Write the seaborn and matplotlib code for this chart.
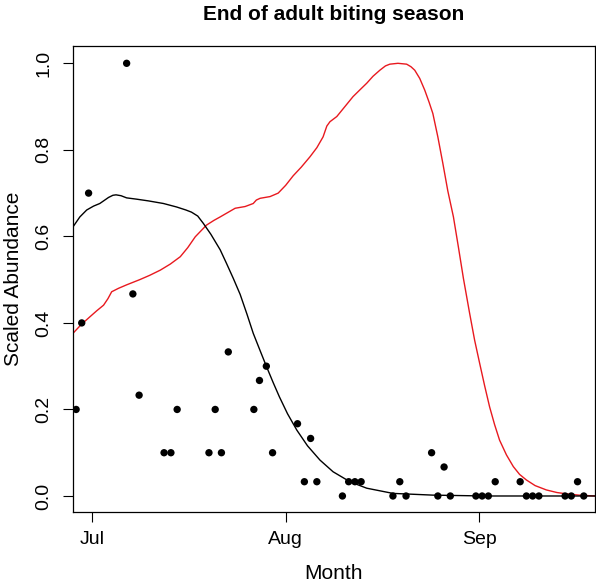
import matplotlib
matplotlib.use("Agg")
import matplotlib.pyplot as plt
import seaborn as sns
import pandas as pd

# observed points: day of year and scaled abundance
obs_day = [179.4, 180.3, 181.4, 187.5, 188.5, 189.5, 193.5, 194.6, 195.6, 200.7,
           201.7, 202.7, 203.8, 207.9, 208.8, 209.9, 210.9, 214.9, 216.0, 217.0,
           218.0, 222.1, 223.1, 224.1, 225.1, 230.2, 231.3, 232.3, 236.4, 237.4,
           238.4, 239.4, 243.5, 244.5, 245.5, 246.6, 250.6, 251.6, 252.6, 253.6,
           257.8, 258.8, 259.8, 260.8]
obs_val = [0.200, 0.400, 0.700, 1.000, 0.467, 0.233, 0.100, 0.100, 0.200, 0.100,
           0.200, 0.100, 0.333, 0.200, 0.267, 0.300, 0.100, 0.167, 0.033, 0.133,
           0.033, 0.000, 0.033, 0.033, 0.033, 0.000, 0.033, 0.000, 0.100, 0.000,
           0.067, 0.000, 0.000, 0.000, 0.000, 0.033, 0.033, 0.000, 0.000, 0.000,
           0.000, 0.000, 0.033, 0.000]

# black fitted curve
black_day = [178.9, 180.0, 181.1, 182.2, 183.2, 184.0, 184.6, 185.3, 185.8, 186.6,
             187.5, 189.1, 191.0, 193.4, 195.5, 197.0, 197.9, 198.9, 199.8, 201.0,
             202.5, 203.5, 204.6, 205.7, 206.8, 207.8, 208.9, 209.9, 211.0, 212.0,
             213.3, 214.8, 216.5, 218.5, 220.6, 223.3, 226.0, 230.2, 236.6, 245.0,
             262.6]
black_val = [0.622, 0.645, 0.661, 0.670, 0.676, 0.684, 0.690, 0.695, 0.696, 0.694,
             0.689, 0.686, 0.682, 0.676, 0.668, 0.661, 0.656, 0.647, 0.630, 0.605,
             0.569, 0.538, 0.503, 0.466, 0.420, 0.376, 0.336, 0.300, 0.262, 0.229,
             0.190, 0.152, 0.116, 0.083, 0.056, 0.033, 0.018, 0.006, 0.002, 0.000,
             0.000]

# red fitted curve
red_day = [178.9, 180.2, 181.6, 182.7, 183.8, 184.5, 185.1, 186.2, 187.5, 189.6,
           191.2, 192.9, 194.5, 196.1, 197.3, 198.5, 200.3, 201.5, 202.5, 203.7,
           204.9, 206.5, 207.8, 208.3, 208.9, 210.5, 211.8, 213.0, 214.2, 215.5,
           216.9, 218.0, 219.0, 219.6, 220.1, 221.2, 222.5, 223.8, 225.0, 226.0,
           227.0, 228.1, 229.0, 229.7, 231.0, 232.4, 233.1, 233.7, 234.5, 235.3,
           236.0, 236.6, 237.4, 238.2, 239.0, 239.9, 240.7, 241.5, 242.5, 243.3,
           244.1, 244.9, 245.7, 246.5, 247.3, 248.4, 249.5, 250.5, 251.6, 253.0,
           254.8, 256.5, 258.0, 260.0, 262.6]
red_val = [0.376, 0.396, 0.414, 0.428, 0.441, 0.456, 0.472, 0.480, 0.488, 0.500,
           0.510, 0.522, 0.536, 0.553, 0.574, 0.599, 0.626, 0.637, 0.645, 0.655,
           0.665, 0.669, 0.676, 0.684, 0.688, 0.692, 0.700, 0.718, 0.740, 0.760,
           0.784, 0.805, 0.830, 0.855, 0.865, 0.877, 0.900, 0.923, 0.940, 0.954,
           0.970, 0.984, 0.994, 0.998, 1.000, 0.998, 0.992, 0.984, 0.965, 0.938,
           0.910, 0.884, 0.830, 0.769, 0.705, 0.645, 0.575, 0.503, 0.422, 0.360,
           0.307, 0.255, 0.206, 0.165, 0.129, 0.095, 0.068, 0.050, 0.037, 0.024,
           0.014, 0.008, 0.005, 0.002, 0.000]

month_ticks = [182, 213, 244]
month_labels = ["Jul", "Aug", "Sep"]
y_ticks = [0.0, 0.2, 0.4, 0.6, 0.8, 1.0]

sns.set_style("white")
plt.rcParams['font.family'] = ['Liberation Sans', 'DejaVu Sans']
plt.rcParams['text.color'] = 'black'
plt.rcParams['axes.labelcolor'] = 'black'

fig = plt.figure(figsize=(5.96, 5.83), dpi=100)
ax = fig.add_axes([73/596, 1-512/583, 522/596, 466/583])

pts = pd.DataFrame({"day": obs_day, "val": obs_val})
blk = pd.DataFrame({"day": black_day, "val": black_val})
red = pd.DataFrame({"day": red_day, "val": red_val})

sns.lineplot(data=red, x="day", y="val", color="#e8191f", lw=1.0, sort=False, ax=ax)
sns.lineplot(data=blk, x="day", y="val", color="black", lw=1.0, sort=False, ax=ax)
sns.scatterplot(data=pts, x="day", y="val", color="black", s=28, edgecolor="none", ax=ax, zorder=3)

ax.set_xlim(178.9, 262.6)
ax.set_ylim(-0.037, 1.04)
ax.set_xticks(month_ticks)
ax.set_xticklabels(month_labels)
ax.set_yticks(y_ticks)
ax.set_yticklabels([f"{v:.1f}" for v in y_ticks], rotation=90, va="center")
ax.tick_params(axis="both", direction="out", length=7, width=0.8, color="black",
               labelsize=14, labelcolor="black", left=True, bottom=True)
ax.tick_params(axis="x", pad=6.5)
ax.tick_params(axis="y", pad=8)
for sp in ax.spines.values():
    sp.set_visible(True)
    sp.set_color("black")
    sp.set_linewidth(0.9)

ax.set_xlabel("Month", fontsize=15, labelpad=12)
ax.set_ylabel("Scaled Abundance", fontsize=15, labelpad=9)
ax.set_title("End of adult biting season", fontsize=15, fontweight="bold", pad=19)

fig.savefig("out.png", dpi=100)
